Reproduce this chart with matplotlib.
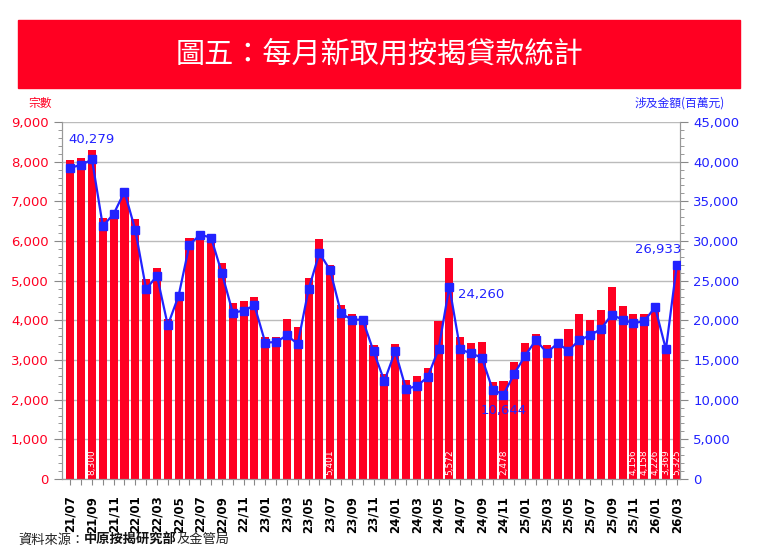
import matplotlib.pyplot as plt
from matplotlib.ticker import MultipleLocator, FuncFormatter
import pandas as pd

# 每月新取用按揭貸款: 宗數 (bars) 及涉及金額 (line, 百萬元)
months = list(pd.period_range('2021-07', '2026-03', freq='M').strftime('%y/%m'))

cases = [8040, 8085, 8300, 6571, 6689, 7126,
         6546, 5034, 5328, 4025, 4689, 6084, 6190, 6126, 5445, 4437, 4487, 4597,
         3588, 3580, 4025, 3824, 5076, 6042, 5401, 4387, 4168, 4080, 3370, 2655,
         3395, 2490, 2605, 2807, 3992, 5572, 3588, 3429, 3454, 2454, 2478, 2950,
         3429, 3664, 3370, 3410, 3782, 4151, 4000, 4252, 4832, 4370, 4156, 4158,
         4226, 3369, 5325]

amount = [39244, 39580, 40279, 31890, 33403, 36218,
          31387, 23908, 25630, 19370, 23109, 29538, 30798, 30420, 25924, 20966, 21218, 21891,
          17185, 17269, 18109, 17017, 23908, 28487, 26303, 20882, 20084, 20084, 16092, 12353,
          16092, 11345, 11723, 12857, 16345, 24260, 16345, 15840, 15294, 11260, 10644, 13277,
          15546, 17521, 15924, 17101, 16176, 17521, 18109, 18908, 20714, 20084, 19622, 19916,
          21639, 16345, 26933]

bar_label_months = ['21/09', '23/07', '24/06', '24/11', '25/11', '25/12', '26/01', '26/02', '26/03']
line_label_months = ['21/09', '24/06', '24/11', '26/03']

RED = '#FF0022'
BLUE = '#2222FF'
CJK = ['Noto Sans CJK TC', 'DejaVu Sans']

plt.rcParams['font.family'] = ['DejaVu Sans', 'Noto Sans CJK TC']

fig = plt.figure(figsize=(7.6, 5.55), dpi=100)
ax = fig.add_axes([62 / 760, 1 - 479 / 555, 618 / 760, 357 / 555])
ax2 = ax.twinx()

x = list(range(len(months)))
ax.bar(x, cases, width=0.75, color=RED, zorder=2)
ax2.plot(x, amount, color=BLUE, lw=1.6, marker='s', markersize=6, zorder=3)

# 柱內白色數字
for m in bar_label_months:
    i = months.index(m)
    ax.text(i, 100, f'{cases[i]:,}', rotation=90, color='white', fontsize=6.5,
            ha='center', va='bottom', zorder=4)

# 金額標註
offsets = {'21/09': (0, 10, 'center', 'bottom'),
           '24/06': (6, -6, 'left', 'center'),
           '24/11': (0, -7, 'center', 'top'),
           '26/03': (3, 7, 'right', 'bottom')}
for m in line_label_months:
    i = months.index(m)
    dx, dy, ha, va = offsets[m]
    ax2.annotate(f'{amount[i]:,}', (i, amount[i]), xytext=(dx, dy), textcoords='offset points',
                 color=BLUE, fontsize=9.5, ha=ha, va=va, zorder=5)

ax.set_xlim(-0.77, len(months) - 0.7)
ax.set_ylim(0, 9000)
ax2.set_ylim(0, 45000)

ax.yaxis.set_major_locator(MultipleLocator(1000))
ax.yaxis.set_minor_locator(MultipleLocator(200))
ax2.yaxis.set_major_locator(MultipleLocator(5000))
ax2.yaxis.set_minor_locator(MultipleLocator(1000))
fmt = FuncFormatter(lambda v, p: f'{int(v):,}')
ax.yaxis.set_major_formatter(fmt)
ax2.yaxis.set_major_formatter(fmt)

ax.set_xticks(x)
ax.set_xticklabels([m if k % 2 == 0 else '' for k, m in enumerate(months)],
                   rotation=90, fontsize=8.5, fontweight='bold')
ax.tick_params(axis='x', length=4, color='#888888', pad=8)
ax.tick_params(axis='y', which='major', colors='#888888', labelcolor=RED, labelsize=9.5, length=6)
ax.tick_params(axis='y', which='minor', colors='#888888', length=3)
ax2.tick_params(axis='y', which='major', colors='#888888', labelcolor=BLUE, labelsize=9.5, length=6)
ax2.tick_params(axis='y', which='minor', colors='#888888', length=3)

ax.grid(axis='y', color='#BBBBBB', lw=1, zorder=0)
ax.set_axisbelow(True)
for a in (ax, ax2):
    a.spines['top'].set_visible(False)
    for s in ('left', 'right', 'bottom'):
        a.spines[s].set_color('#999999')

# 標題橫幅
fig.patches.append(plt.Rectangle((18 / 760, 1 - 88 / 555), 722 / 760, 68 / 555,
                                 transform=fig.transFigure, color=RED, zorder=0))
fig.text(0.5, 1 - 54 / 555, '圖五：每月新取用按揭貸款統計', color='white', fontsize=21,
         ha='center', va='center', family=CJK)

fig.text(28 / 760, 1 - 103 / 555, '宗數', color=RED, fontsize=8.5, ha='left', va='center', family=CJK)
fig.text(725 / 760, 1 - 103 / 555, '涉及金額(百萬元)', color=BLUE, fontsize=8.5,
         ha='right', va='center', family=CJK)

# 資料來源
t1 = fig.text(18 / 760, 1 - 540 / 555, '資料來源：', fontsize=9.5, color='#222222',
              va='center', family=CJK)
t2 = fig.text(0, 0, '中原按揭研究部', fontsize=9.5, fontweight='bold', color='#111111',
              family=CJK, va='bottom')
t3 = fig.text(0, 0, '及金管局', fontsize=9.5, color='#222222', family=CJK, va='bottom')
fig.canvas.draw()
r = fig.canvas.get_renderer()
bb = t1.get_window_extent(r).transformed(fig.transFigure.inverted())
t2.set_position((bb.x1, bb.y0))
fig.canvas.draw()
bb2 = t2.get_window_extent(r).transformed(fig.transFigure.inverted())
t3.set_position((bb2.x1, bb.y0))

fig.savefig('out.png', dpi=100)
